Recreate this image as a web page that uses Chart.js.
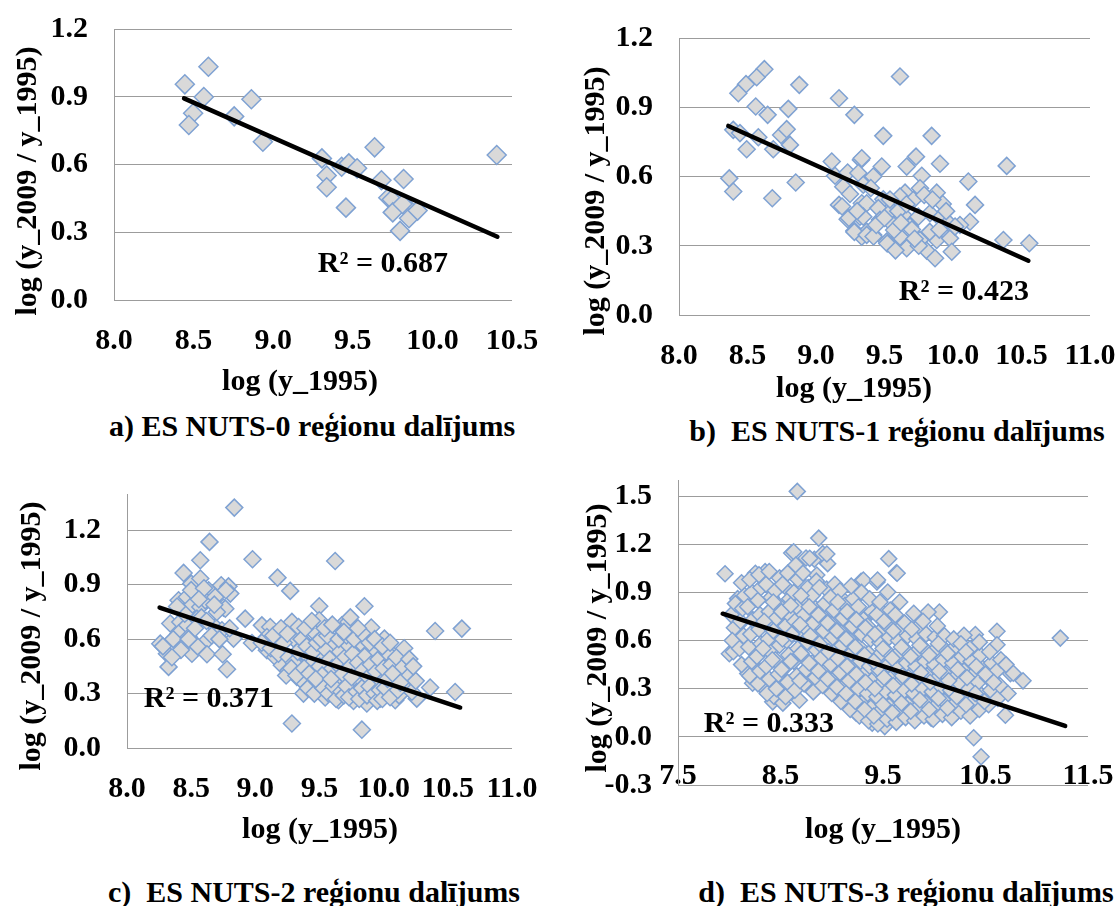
<!DOCTYPE html>
<html>
<head>
<meta charset="utf-8">
<script src="https://cdn.jsdelivr.net/npm/chart.js@4.4.1/dist/chart.umd.min.js"></script>
<style>
  html, body { margin: 0; padding: 0; background: #fff; }
  body { position: relative; width: 1118px; height: 906px; overflow: hidden;
         font-family: 'Liberation Serif', 'Times New Roman', serif; }
  canvas { position: absolute; }
  .t { position: absolute; font-weight: bold; font-size: 30px; color: #000;
       white-space: pre; line-height: 1; transform: translate(-50%, -50%); }
  .rot { transform: translate(-50%, -50%) rotate(-90deg); }
</style>
</head>
<body>
<canvas id="c0" width="559" height="380" style="left:0;top:0"></canvas>
<canvas id="c1" width="558" height="380" style="left:560px;top:0"></canvas>
<canvas id="c2" width="559" height="380" style="left:0;top:450px"></canvas>
<canvas id="c3" width="558" height="380" style="left:560px;top:450px"></canvas>

<div class="t rot" style="left:26px;top:181px">log (y_2009 / y_1995)</div>
<div class="t" style="left:300px;top:380px">log (y_1995)</div>
<div class="t" style="left:383px;top:262px">R² = 0.687</div>
<div class="t" style="left:312px;top:426px">a) ES NUTS-0 reģionu dalījums</div>

<div class="t rot" style="left:594px;top:201px">log (y_2009 / y_1995)</div>
<div class="t" style="left:854px;top:387px">log (y_1995)</div>
<div class="t" style="left:964px;top:290px">R² = 0.423</div>
<div class="t" style="left:897px;top:431px">b)  ES NUTS-1 reģionu dalījums</div>

<div class="t rot" style="left:30px;top:636px">log (y_2009 / y_1995)</div>
<div class="t" style="left:320px;top:828px">log (y_1995)</div>
<div class="t" style="left:209px;top:697px">R² = 0.371</div>
<div class="t" style="left:314px;top:892px">c)  ES NUTS-2 reģionu dalījums</div>

<div class="t rot" style="left:596px;top:638px">log (y_2009 / y_1995)</div>
<div class="t" style="left:883px;top:828px">log (y_1995)</div>
<div class="t" style="left:769px;top:722px">R² = 0.333</div>
<div class="t" style="left:906px;top:892px">d)  ES NUTS-3 reģionu dalījums</div>

<script>
// ---- tick values ----
const xTicksNuts0 = [8.0, 8.5, 9.0, 9.5, 10.0, 10.5];
const xTicksNuts12 = [8.0, 8.5, 9.0, 9.5, 10.0, 10.5, 11.0];
const xTicksNuts3 = [7.5, 8.5, 9.5, 10.5, 11.5];
const yTicksPos = [0.0, 0.3, 0.6, 0.9, 1.2];
const yTicksNuts3 = [-0.3, 0.0, 0.3, 0.6, 0.9, 1.2, 1.5];

// ---- [log(y_1995), log(y_2009/y_1995)] per region ----
const nuts0Points = [
  [8.445,0.955],[8.593,1.033],[8.564,0.899],[8.497,0.827],[8.470,0.775],[8.755,0.813],
  [8.863,0.889],[8.935,0.701],[9.306,0.627],[9.336,0.551],[9.336,0.499],[9.430,0.590],
  [9.475,0.605],[9.527,0.583],[9.457,0.409],[9.637,0.676],[9.680,0.530],[9.723,0.453],
  [9.745,0.445],[9.751,0.388],[9.819,0.536],[9.797,0.306],[9.839,0.413],[9.812,0.425],
  [9.853,0.362],[9.907,0.396],[10.404,0.642]
];

const nuts1Points = [
  [8.623,1.065],[8.567,1.030],[8.489,1.000],[8.433,0.961],[8.878,0.997],[8.560,0.903],
  [8.647,0.867],[8.798,0.893],[9.168,0.939],[9.280,0.867],[8.396,0.802],[8.445,0.788],
  [8.579,0.770],[8.494,0.718],[8.688,0.718],[8.745,0.780],[8.786,0.805],[8.810,0.737],
  [8.367,0.592],[8.396,0.535],[8.681,0.506],[8.852,0.574],[9.115,0.665],[9.139,0.603],
  [9.231,0.617],[9.328,0.672],[9.199,0.556],[9.248,0.524],[9.168,0.477],[9.231,0.415],
  [9.280,0.365],[9.334,0.484],[9.321,0.426],[9.334,0.339],[9.309,0.615],
  [9.613,1.033],[9.491,0.776],[9.844,0.776],[9.334,0.679],[9.480,0.643],[9.662,0.643],
  [9.730,0.686],[9.905,0.655],[10.392,0.646],[10.112,0.578],[9.772,0.603],[9.418,0.600],
  [9.345,0.564],[9.759,0.549],[9.881,0.530],[9.650,0.530],[9.613,0.513],[9.710,0.498],
  [9.925,0.481],[10.161,0.477],[9.491,0.501],[9.370,0.484],[9.455,0.463],[9.553,0.452],
  [9.345,0.426],[9.467,0.412],[9.637,0.433],[9.747,0.426],[9.832,0.441],[9.905,0.419],
  [10.124,0.404],[10.051,0.390],[9.564,0.390],[9.686,0.383],[9.370,0.361],[9.418,0.347],
  [9.613,0.339],[9.516,0.318],[9.759,0.325],[9.881,0.325],[9.978,0.332],[9.662,0.289],
  [9.808,0.279],[9.869,0.246],[9.991,0.274],[10.368,0.325],[10.557,0.311],[9.966,0.400],
  [10.015,0.383],[9.19,0.47],[9.24,0.42],[9.28,0.36],[9.37,0.347],[9.42,0.34],[9.52,0.31],
  [9.57,0.368],[9.60,0.45],[9.70,0.37],[9.66,0.48],[9.54,0.50],[9.75,0.30],[9.83,0.36],
  [9.62,0.40],[9.44,0.39],[9.58,0.28],[9.90,0.37],[9.79,0.52],[9.30,0.45],[9.40,0.55],
  [9.50,0.42],[9.72,0.33],[9.85,0.50],[9.95,0.45]
];

const nuts2Points = [
  [8.836,1.325],[8.643,1.136],[8.571,1.035],[8.978,1.040],[8.441,0.965],[8.501,0.906],
  [8.571,0.934],[8.636,0.869],[8.734,0.897],[8.791,0.891],[8.805,0.851],[9.173,0.939],
  [9.272,0.866],[8.402,0.814],[8.467,0.832],[8.506,0.787],[8.571,0.777],[8.610,0.814],
  [8.688,0.832],[8.752,0.774],[8.337,0.686],[8.415,0.695],[8.467,0.676],[8.545,0.713],
  [8.402,0.631],[8.480,0.612],[8.610,0.584],[8.259,0.575],[8.311,0.520],[8.324,0.447],
  [8.506,0.520],[8.623,0.517],[8.745,0.517],[8.779,0.434],[8.688,0.667],[8.740,0.649],
  [8.830,0.603],[8.921,0.713],[8.766,0.768],[8.974,0.579],[9.051,0.676],[9.116,0.667],
  [9.090,0.612],[9.194,0.612],[9.285,0.695],[9.311,0.594],[9.090,0.539],[9.155,0.502],
  [9.207,0.456],[9.259,0.428],[9.285,0.135],[9.324,0.391],
  [8.36,0.60],[8.45,0.74],[8.53,0.66],[8.58,0.72],[8.66,0.62],[8.70,0.75],[8.55,0.56],
  [8.42,0.54],[8.50,0.87],[8.60,0.88],[8.62,0.70],[8.72,0.60],[8.80,0.66],[8.39,0.78],
  [8.48,0.60],[8.28,0.56],[8.35,0.50],[8.77,0.87],[8.68,0.79],[8.56,0.82],
  [9.622,1.031],[9.498,0.781],[9.850,0.781],[9.337,0.667],[9.498,0.704],[9.674,0.676],
  [9.726,0.695],[9.903,0.664],[10.401,0.645],[10.609,0.658],[10.006,0.603],[9.467,0.631],
  [9.570,0.616],[9.778,0.612],[9.947,0.561],[10.167,0.480],[10.064,0.520],[9.363,0.557],
  [9.597,0.561],[9.817,0.539],[9.908,0.502],[9.415,0.502],[9.519,0.502],[9.674,0.502],
  [9.350,0.447],[9.467,0.419],[9.622,0.419],[9.778,0.428],[9.908,0.419],[10.090,0.419],
  [10.142,0.391],[10.038,0.401],[9.389,0.355],[9.531,0.377],[9.635,0.383],[9.726,0.355],
  [9.856,0.355],[9.960,0.373],[10.362,0.333],[10.557,0.309],[10.258,0.272],[9.375,0.300],
  [9.544,0.278],[9.648,0.263],[9.765,0.259],[9.869,0.245],[9.973,0.272],[10.090,0.263],
  [9.830,0.101],
  [9.05,0.58],[9.12,0.55],[9.18,0.52],[9.22,0.58],[9.26,0.50],[9.30,0.47],[9.33,0.53],
  [9.36,0.60],[9.40,0.56],[9.43,0.46],[9.45,0.53],[9.48,0.58],[9.50,0.45],[9.52,0.40],
  [9.55,0.54],[9.58,0.49],[9.60,0.44],[9.62,0.58],[9.64,0.46],[9.66,0.53],[9.68,0.41],
  [9.70,0.50],[9.72,0.57],[9.74,0.45],[9.76,0.52],[9.78,0.38],[9.80,0.47],[9.82,0.58],
  [9.84,0.43],[9.86,0.51],[9.88,0.39],[9.90,0.46],[9.92,0.55],[9.94,0.42],[9.96,0.49],
  [9.98,0.36],[10.00,0.44],[10.02,0.53],[10.04,0.31],[10.06,0.46],[10.08,0.36],[10.10,0.50],
  [10.12,0.29],[10.14,0.44],[10.18,0.34],[10.20,0.40],[10.22,0.31],[10.25,0.37],
  [9.35,0.38],[9.41,0.33],[9.46,0.30],[9.49,0.36],[9.53,0.33],[9.57,0.30],[9.61,0.34],
  [9.63,0.27],[9.67,0.31],[9.69,0.29],[9.71,0.34],[9.73,0.28],[9.75,0.39],[9.79,0.31],
  [9.81,0.27],[9.83,0.33],[9.87,0.29],[9.89,0.34],[9.93,0.30],[9.95,0.26],[9.97,0.32],
  [9.99,0.27],[10.01,0.33],[10.03,0.38],[10.05,0.28],[10.07,0.41],[10.11,0.32],[10.13,0.36],
  [9.24,0.40],[9.28,0.44],[9.32,0.40],[9.38,0.44],[9.42,0.41],[9.47,0.38],[9.51,0.60],
  [9.56,0.62],[9.59,0.38],[9.65,0.60],[9.71,0.62],[9.77,0.60],[9.85,0.62],[9.89,0.58],
  [9.93,0.60],[9.99,0.56],[10.05,0.58],[10.16,0.55],[10.20,0.49],[10.23,0.45],[9.14,0.62],
  [9.20,0.66],[9.25,0.63],[9.39,0.66],[9.44,0.70],[9.54,0.66],[9.60,0.68],[9.69,0.64],
  [9.80,0.66],[9.74,0.72]
];

const nuts3Points = [
  [8.664,1.529],[8.873,1.238],[7.959,1.016],[8.609,1.145],[8.749,1.114],[8.830,1.106],
  [8.912,1.141],[8.960,1.079],[9.286,0.969],[8.082,0.861],[8.001,0.518],[8.180,0.394],
  [8.343,0.300],[8.424,0.218],[8.684,0.228],[9.556,1.110],[9.631,1.022],[9.441,0.965],
  [9.546,0.902],[9.663,0.840],[11.230,0.615],[10.401,0.637],[10.612,0.658],[10.612,0.574],
  [10.743,0.394],[10.866,0.349],[10.694,0.135],[10.385,-0.006],[10.457,-0.124],[10.05,0.778],
  [9.94,0.778],[10.29,0.633],[8.071,0.583],[8.106,0.707],[8.228,0.334],[8.255,1.019],
  [8.350,1.029],[8.437,0.251],[8.523,0.210],[8.628,1.153],[8.785,1.112],[8.952,1.139],
  [8.854,1.008],[9.098,0.863],[9.308,0.977],[9.447,0.977],[9.638,1.019],[9.499,0.770],
  [9.273,0.334],[9.238,0.147],[9.395,0.085],[9.517,0.064],[9.674,0.168],[9.970,0.116],
  [10.213,0.147],[10.771,0.396],
  [8.05,0.68],[8.02,0.76],[8.06,0.83],[8.04,0.53],[8.03,0.60],
  [8.12,0.45],[8.10,0.55],[8.14,0.63],[8.11,0.72],[8.13,0.80],[8.15,0.88],[8.12,0.96],
  [8.20,0.38],[8.22,0.47],[8.19,0.56],[8.21,0.64],[8.23,0.73],[8.18,0.81],[8.22,0.90],[8.20,0.98],
  [8.28,0.33],[8.30,0.41],[8.27,0.50],[8.31,0.58],[8.29,0.67],[8.30,0.76],[8.28,0.85],[8.31,0.93],[8.29,1.01],
  [8.37,0.27],[8.39,0.36],[8.36,0.44],[8.40,0.53],[8.38,0.61],[8.37,0.70],[8.39,0.78],[8.41,0.87],[8.36,0.95],[8.39,1.03],
  [8.46,0.30],[8.48,0.39],[8.45,0.48],[8.49,0.57],[8.47,0.65],[8.46,0.74],[8.48,0.82],[8.45,0.91],[8.49,0.99],
  [8.55,0.25],[8.57,0.34],[8.54,0.43],[8.58,0.51],[8.56,0.60],[8.55,0.69],[8.57,0.77],[8.59,0.86],[8.54,0.94],[8.57,1.02],
  [8.64,0.29],[8.66,0.38],[8.63,0.47],[8.67,0.55],[8.65,0.64],[8.64,0.72],[8.66,0.81],[8.63,0.90],[8.67,0.98],[8.65,1.07],
  [8.73,0.33],[8.75,0.42],[8.72,0.50],[8.76,0.59],[8.74,0.68],[8.73,0.76],[8.75,0.85],[8.77,0.93],[8.72,1.02],
  [8.82,0.28],[8.84,0.37],[8.81,0.46],[8.85,0.54],[8.83,0.63],[8.82,0.71],[8.84,0.80],[8.81,0.88],[8.85,0.97],
  [8.91,0.32],[8.93,0.41],[8.90,0.49],[8.94,0.58],[8.92,0.66],[8.91,0.75],[8.93,0.83],[8.95,0.92],
  [9.00,0.27],[9.02,0.36],[8.99,0.45],[9.03,0.53],[9.01,0.62],[9.00,0.70],[9.02,0.79],[8.99,0.87],[9.03,0.95],
  [9.09,0.22],[9.11,0.31],[9.08,0.40],[9.12,0.48],[9.10,0.57],[9.09,0.65],[9.11,0.74],[9.13,0.82],[9.08,0.91],
  [9.18,0.17],[9.20,0.26],[9.17,0.35],[9.21,0.43],[9.19,0.52],[9.18,0.60],[9.20,0.69],[9.17,0.77],[9.21,0.86],[9.19,0.94],
  [9.27,0.13],[9.29,0.21],[9.26,0.30],[9.30,0.39],[9.28,0.47],[9.27,0.56],[9.29,0.64],[9.31,0.73],[9.26,0.81],[9.29,0.90],
  [9.36,0.10],[9.38,0.18],[9.35,0.27],[9.39,0.35],[9.37,0.44],[9.36,0.52],[9.38,0.61],[9.35,0.69],[9.39,0.78],[9.37,0.86],
  [9.45,0.08],[9.47,0.16],[9.44,0.25],[9.48,0.33],[9.46,0.42],[9.45,0.50],[9.47,0.59],[9.49,0.67],[9.44,0.76],[9.47,0.84],
  [9.54,0.11],[9.56,0.19],[9.53,0.28],[9.57,0.36],[9.55,0.45],[9.54,0.53],[9.56,0.62],[9.53,0.70],[9.57,0.79],
  [9.63,0.09],[9.65,0.17],[9.62,0.26],[9.66,0.34],[9.64,0.43],[9.63,0.51],[9.65,0.60],[9.67,0.68],[9.62,0.76],
  [9.72,0.12],[9.74,0.20],[9.71,0.29],[9.75,0.37],[9.73,0.46],[9.72,0.54],[9.74,0.63],[9.71,0.71],
  [9.81,0.10],[9.83,0.18],[9.80,0.27],[9.84,0.35],[9.82,0.44],[9.81,0.52],[9.83,0.61],[9.85,0.69],[9.80,0.77],
  [9.90,0.13],[9.92,0.21],[9.89,0.30],[9.93,0.38],[9.91,0.47],[9.90,0.55],[9.92,0.64],[9.89,0.72],
  [9.99,0.11],[10.01,0.19],[9.98,0.28],[10.02,0.36],[10.00,0.45],[9.99,0.53],[10.01,0.62],[10.03,0.69],
  [10.08,0.14],[10.10,0.22],[10.07,0.31],[10.11,0.39],[10.09,0.48],[10.08,0.56],[10.10,0.63],
  [10.17,0.12],[10.19,0.20],[10.16,0.29],[10.20,0.37],[10.18,0.46],[10.17,0.54],[10.19,0.61],
  [10.26,0.16],[10.28,0.24],[10.25,0.33],[10.29,0.41],[10.27,0.50],[10.26,0.58],
  [10.35,0.13],[10.37,0.22],[10.34,0.30],[10.38,0.39],[10.36,0.47],[10.35,0.55],
  [10.44,0.17],[10.46,0.26],[10.43,0.34],[10.47,0.43],[10.45,0.51],[10.44,0.59],
  [10.53,0.20],[10.55,0.29],[10.52,0.37],[10.56,0.46],[10.54,0.53],
  [10.62,0.24],[10.64,0.32],[10.61,0.41],[10.65,0.48],
  [10.72,0.27],[10.70,0.45],
  [8.33,0.55],[8.34,0.72],[8.42,0.48],[8.43,0.66],[8.43,0.84],[8.51,0.42],[8.52,0.61],
  [8.51,0.78],[8.52,0.95],[8.60,0.47],[8.61,0.64],[8.60,0.82],[8.69,0.35],[8.70,0.52],
  [8.69,0.70],[8.70,0.88],[8.78,0.46],[8.79,0.63],[8.78,0.81],[8.87,0.41],[8.88,0.58],
  [8.87,0.76],[8.88,0.93],[8.96,0.36],[8.97,0.53],[8.96,0.71],[9.05,0.31],[9.06,0.49],
  [9.05,0.66],[9.06,0.84],[9.14,0.27],[9.15,0.44],[9.14,0.61],[9.15,0.78],[9.23,0.22],
  [9.24,0.39],[9.23,0.56],[9.24,0.73],[9.32,0.17],[9.33,0.34],[9.32,0.51],[9.33,0.68],
  [9.41,0.13],[9.42,0.30],[9.41,0.47],[9.42,0.64],[9.50,0.20],[9.51,0.37],[9.50,0.55],
  [9.51,0.72],[9.59,0.15],[9.60,0.32],[9.59,0.49],[9.60,0.66],[9.68,0.21],[9.69,0.38],
  [9.68,0.56],[9.77,0.16],[9.78,0.33],[9.77,0.50],[9.78,0.67],[9.86,0.23],[9.87,0.40],
  [9.86,0.57],[9.95,0.17],[9.96,0.34],[9.95,0.51],[10.04,0.24],[10.05,0.41],[10.04,0.58],
  [10.13,0.18],[10.14,0.35],[10.13,0.52],[10.22,0.25],[10.23,0.42],[10.31,0.20],[10.32,0.37],
  [10.31,0.53],[10.40,0.27],[10.41,0.44],[10.49,0.22],[10.50,0.39],[10.58,0.34]
];

// ---- fitted trend line end points ----
const trendNuts0 = [[8.440, 0.893], [10.408, 0.280]];
const trendNuts1 = [[8.360, 0.819], [10.550, 0.235]];
const trendNuts2 = [[8.254, 0.774], [10.596, 0.223]];
const trendNuts3 = [[7.936, 0.767], [11.277, 0.068]];

const FONT = "'Liberation Serif', 'Times New Roman', serif";
const GRID = '#9c9c9c';
const fmt = v => { const r = Math.round(v * 10) / 10; return (Math.abs(r) < 1e-9 ? 0 : r).toFixed(1); };
const tickFont = { family: FONT, size: 30, weight: 'bold' };

function buildPanel(id, s) {
  return new Chart(document.getElementById(id), {
    type: 'scatter',
    data: {
      datasets: [
        { data: s.trend.map(([x, y]) => ({ x, y })), showLine: true, borderColor: '#000',
          borderWidth: 4.5, borderCapStyle: 'round', pointRadius: 0, pointHoverRadius: 0, order: 0 },
        { data: s.points.map(([x, y]) => ({ x, y })), pointStyle: 'rectRot', pointRadius: s.r,
          backgroundColor: '#d9d9d9', borderColor: '#7fa2d3', borderWidth: 1.5, order: 1 }
      ]
    },
    options: {
      responsive: false, animation: false, devicePixelRatio: 1,
      layout: { padding: { top: s.padTop, right: s.padRight, left: 0, bottom: 0 } },
      plugins: { legend: { display: false }, tooltip: { enabled: false } },
      scales: {
        x: {
          type: 'linear', bounds: 'data', position: 'bottom',
          min: s.xTicks[0], max: s.xTicks[s.xTicks.length - 1],
          grid: { display: false, drawTicks: false }, border: { display: false },
          ticks: { autoSkip: false, maxRotation: 0, mirror: !!s.xMirror, padding: s.xPad,
                   color: '#000', font: tickFont, callback: fmt },
          afterBuildTicks: a => { a.ticks = s.xTicks.map(v => ({ value: v })); },
          afterFit: a => { a.height = s.xh; a.paddingLeft = 0; a.paddingRight = 0; }
        },
        y: {
          type: 'linear', bounds: 'data', min: s.yMin, max: s.yMax,
          grid: { color: GRID, lineWidth: 1, drawTicks: false },
          border: { display: true, color: GRID, width: 1 },
          ticks: { padding: 26, color: '#000', font: tickFont, callback: fmt },
          afterBuildTicks: a => { a.ticks = s.yTicks.map(v => ({ value: v })); },
          afterFit: a => { a.width = s.yw; a.paddingTop = 0; a.paddingBottom = 0; }
        }
      }
    }
  });
}

buildPanel('c0', { points: nuts0Points, trend: trendNuts0, r: 9.5,
  xTicks: xTicksNuts0, yTicks: yTicksPos, yMin: 0, yMax: 1.2, xPad: 23,
  yw: 114, xh: 80, padTop: 29, padRight: 47 });
buildPanel('c1', { points: nuts1Points, trend: trendNuts1, r: 8.5,
  xTicks: xTicksNuts12, yTicks: yTicksPos, yMin: 0, yMax: 1.2, xPad: 23,
  yw: 119, xh: 65, padTop: 38, padRight: 28 });
buildPanel('c2', { points: nuts2Points, trend: trendNuts2, r: 8.5,
  xTicks: xTicksNuts12, yTicks: yTicksPos, yMin: 0, yMax: 1.4, xPad: 23,
  yw: 127, xh: 82, padTop: 44, padRight: 47 });
// x labels of the NUTS-3 panel sit just under the 0.0 line, inside the plot above the -0.3 edge
buildPanel('c3', { points: nuts3Points, trend: trendNuts3, r: 8,
  xTicks: xTicksNuts3, yTicks: yTicksNuts3, yMin: -0.3, yMax: 1.6, xMirror: true, xPad: -9,
  yw: 118, xh: 45, padTop: 30, padRight: 30 });
</script>
</body>
</html>
